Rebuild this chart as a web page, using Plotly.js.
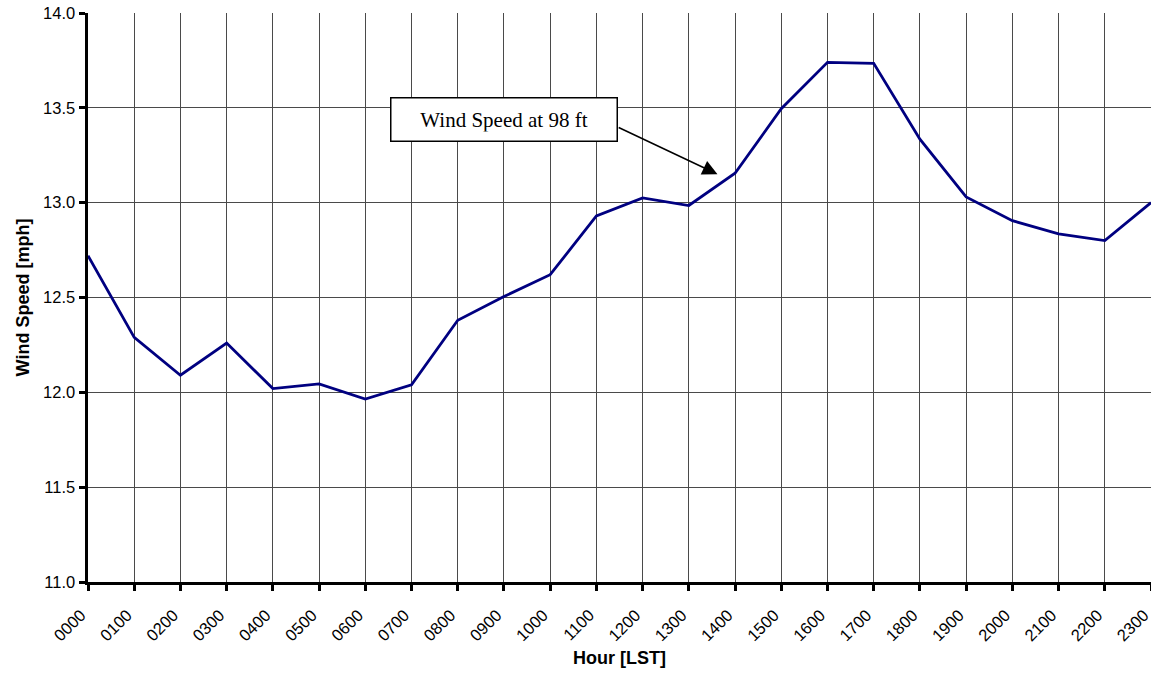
<!DOCTYPE html>
<html>
<head>
<meta charset="utf-8">
<script src="https://cdn.plot.ly/plotly-3.0.1.min.js"></script>
<style>html,body{margin:0;padding:0;background:#fff;}#chart{width:1151px;height:673px;}</style>
</head>
<body>
<div id="chart"></div>
<script>
const hours = ['0000','0100','0200','0300','0400','0500','0600','0700','0800','0900','1000','1100',
               '1200','1300','1400','1500','1600','1700','1800','1900','2000','2100','2200','2300'];
const windSpeed = [12.72, 12.29, 12.09, 12.26, 12.02, 12.045, 11.965, 12.04, 12.38, 12.505, 12.62, 12.93,
                   13.025, 12.985, 13.155, 13.495, 13.74, 13.735, 13.335, 13.03, 12.905, 12.835, 12.80, 13.0];
const yTicks = [11.0, 11.5, 12.0, 12.5, 13.0, 13.5, 14.0];
const seriesLabel = 'Wind Speed at 98 ft';

const trace = {
  x: hours.map((h, i) => i),
  y: windSpeed,
  type: 'scatter',
  mode: 'lines',
  line: {color: '#000080', width: 2.8},
  hoverinfo: 'skip',
  cliponaxis: true
};

const layout = {
  width: 1151, height: 673,
  margin: {l: 88, r: 0, t: 13, b: 91},
  paper_bgcolor: '#ffffff', plot_bgcolor: '#ffffff',
  showlegend: false,
  font: {family: 'Liberation Sans, Arial, sans-serif', color: '#000', size: 16},
  xaxis: {
    range: [0, hours.length - 1],
    tickvals: hours.map((h, i) => i),
    ticktext: hours,
    tickangle: -45,
    ticklabeloverflow: 'allow',
    ticklabelstandoff: 8,
    ticklabelshift: -7,
    showgrid: true, gridcolor: '#4a4a4a', gridwidth: 1,
    showline: true, linecolor: '#000', linewidth: 3,
    ticks: 'outside', ticklen: 6, tickwidth: 3, tickcolor: '#000',
    tickfont: {size: 16.5},
    zeroline: false,
    title: {text: '<b>Hour [LST]</b>', font: {size: 18}, standoff: 8}
  },
  yaxis: {
    range: [11, 14],
    tickvals: yTicks,
    ticktext: yTicks.map(v => v.toFixed(1)),
    showgrid: true, gridcolor: '#4a4a4a', gridwidth: 1,
    showline: true, linecolor: '#000', linewidth: 3.5,
    ticks: 'outside', ticklen: 6, tickwidth: 3, tickcolor: '#000',
    tickfont: {size: 16.5},
    zeroline: false,
    title: {text: '<b>Wind Speed [mph]</b>', font: {size: 18}, standoff: 10}
  },
  annotations: [
    {
      xref: 'x', yref: 'y', x: 9.0, y: 13.44,
      text: seriesLabel, showarrow: false,
      font: {family: 'Liberation Serif, Times New Roman, serif', size: 21, color: '#000'},
      bgcolor: '#ffffff', bordercolor: '#000', borderwidth: 1.5, borderpad: 9,
      width: 207, height: 24, align: 'center'
    },
    {
      xref: 'x', yref: 'y', x: 13.62, y: 13.15,
      axref: 'x', ayref: 'y', ax: 11.45, ay: 13.40,
      text: '', showarrow: true,
      arrowhead: 2, arrowsize: 2, arrowwidth: 1.5, arrowcolor: '#000', standoff: 0
    }
  ]
};

Plotly.newPlot('chart', [trace], layout, {displayModeBar: false, staticPlot: true});
</script>
</body>
</html>
